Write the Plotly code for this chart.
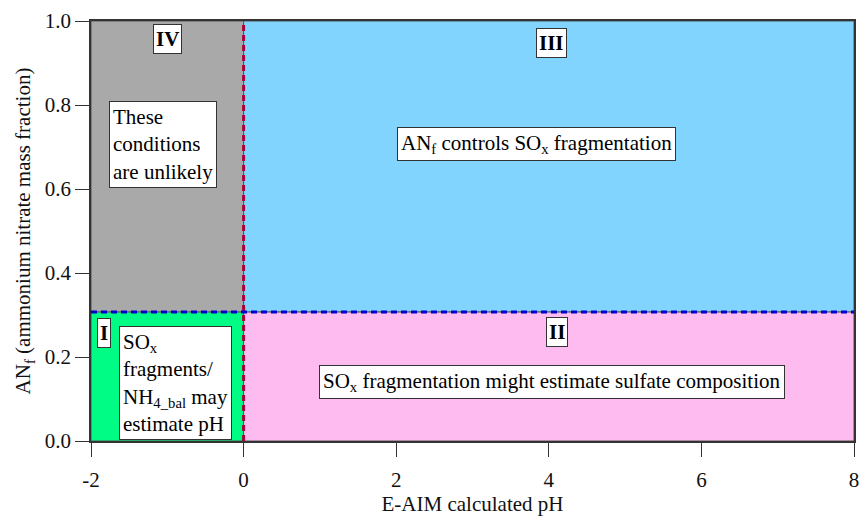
import plotly.graph_objects as go

# ---- data ----
ph_range = [-2, 8]
anf_range = [0, 1]
ph_threshold = 0.0
anf_threshold = 0.307

region_names = ["IV", "III", "I", "II"]
region_x = [[-2, 0], [0, 8], [-2, 0], [0, 8]]
region_y = [[0.307, 1.0], [0.307, 1.0], [0.0, 0.307], [0.0, 0.307]]
region_colors = ["#a9a9a9", "#80d4fe", "#00fc84", "#fdbbf0"]

label_text = ["<b>IV</b>", "<b>III</b>", "<b>I</b>", "<b>II</b>"]
label_x = [-1.0, 4.04, -1.83, 4.11]
label_y = [0.957, 0.948, 0.257, 0.26]

note_text = [
    "These<br>conditions<br>are unlikely",
    "AN<sub>f</sub> controls SO<sub>x</sub> fragmentation",
    "SO<sub>x</sub><br>fragments/<br>NH<sub>4_bal</sub> may<br>estimate pH",
    "SO<sub>x</sub> fragmentation might estimate sulfate composition",
]
note_x = [-1.06, 3.84, -0.89, 4.04]
note_y = [0.707, 0.707, 0.137, 0.141]
note_align = ["left", "center", "left", "center"]

x_ticks = [-2, 0, 2, 4, 6, 8]
y_ticks = [0.0, 0.2, 0.4, 0.6, 0.8, 1.0]

FONT = "Liberation Serif"

fig = go.Figure()

for name, xs, ys, col in zip(region_names, region_x, region_y, region_colors):
    fig.add_trace(go.Scatter(
        x=[xs[0], xs[1], xs[1], xs[0], xs[0]],
        y=[ys[0], ys[0], ys[1], ys[1], ys[0]],
        fill="toself", fillcolor=col, mode="lines",
        line=dict(color="#555555", width=1), name=name,
        hoverinfo="skip", showlegend=False))

# threshold lines
fig.add_trace(go.Scatter(
    x=[ph_threshold, ph_threshold], y=anf_range, mode="lines",
    line=dict(color="#a8003c", width=3, dash="6px,4px"),
    showlegend=False, hoverinfo="skip"))
fig.add_trace(go.Scatter(
    x=ph_range, y=[anf_threshold, anf_threshold], mode="lines",
    line=dict(color="#0000cc", width=3, dash="6px,4px"),
    showlegend=False, hoverinfo="skip"))

for t, x, y in zip(label_text, label_x, label_y):
    fig.add_annotation(x=x, y=y, text=t, showarrow=False,
                       font=dict(family=FONT, size=21, color="black"),
                       bgcolor="white", bordercolor="#333333", borderwidth=1,
                       borderpad=2)

for t, x, y, a in zip(note_text, note_x, note_y, note_align):
    fig.add_annotation(x=x, y=y, text=t, showarrow=False, align=a,
                       font=dict(family=FONT, size=21, color="black"),
                       bgcolor="white", bordercolor="#333333", borderwidth=1,
                       borderpad=3)

axis_common = dict(
    showline=True, mirror=True, linecolor="#333333", linewidth=1.5,
    ticks="outside", ticklen=14, tickwidth=1, tickcolor="#333333",
    showgrid=False, zeroline=False,
    tickfont=dict(family=FONT, size=21, color="#111111"),
)

fig.update_xaxes(range=ph_range, tickvals=x_ticks,
                 ticktext=[str(v) for v in x_ticks],
                 ticklabelstandoff=5,
                 title=dict(text="E-AIM calculated pH",
                            font=dict(family=FONT, size=21, color="#111111"),
                            standoff=5),
                 **axis_common)
fig.update_yaxes(range=anf_range, tickvals=y_ticks,
                 ticktext=[f"{v:.1f}" for v in y_ticks],
                 title=dict(text="AN<sub>f</sub> (ammonium nitrate mass fraction)",
                            font=dict(family=FONT, size=21, color="#111111"),
                            standoff=8),
                 **axis_common)

fig.update_layout(
    width=868, height=521,
    margin=dict(l=91, r=9, t=20, b=78),
    paper_bgcolor="white", plot_bgcolor="white",
    font=dict(family=FONT, size=21, color="#111111"),
    showlegend=False,
)

fig.write_html("out.html")
